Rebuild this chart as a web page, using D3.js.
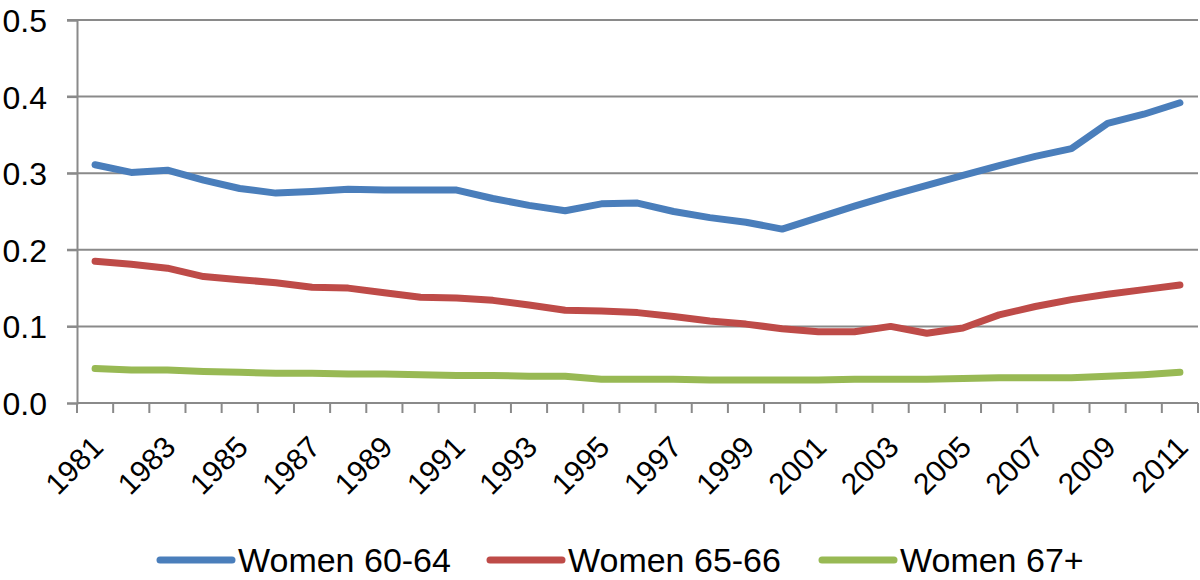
<!DOCTYPE html>
<html>
<head>
<meta charset="utf-8">
<script src="https://cdn.jsdelivr.net/npm/d3@7"></script>
<style>
  body { margin: 0; background: #fff; }
  svg { display: block; font-family: "Liberation Sans", Arial, Helvetica, sans-serif; }
</style>
</head>
<body>
<svg id="chart" width="1200" height="580"></svg>
<script>
const years = [1981, 1982, 1983, 1984, 1985, 1986, 1987, 1988, 1989, 1990,
  1991, 1992, 1993, 1994, 1995, 1996, 1997, 1998, 1999, 2000,
  2001, 2002, 2003, 2004, 2005, 2006, 2007, 2008, 2009, 2010, 2011];

const women6064 = [0.311, 0.301, 0.304, 0.291, 0.280, 0.274, 0.276, 0.279, 0.278, 0.278,
  0.278, 0.267, 0.258, 0.251, 0.260, 0.261, 0.250, 0.242, 0.236, 0.227,
  0.242, 0.257, 0.271, 0.284, 0.297, 0.310, 0.322, 0.332, 0.365, 0.377, 0.392];

const women6566 = [0.185, 0.181, 0.176, 0.165, 0.161, 0.157, 0.151, 0.150, 0.144, 0.138,
  0.137, 0.134, 0.128, 0.121, 0.120, 0.118, 0.113, 0.107, 0.103, 0.097,
  0.093, 0.093, 0.100, 0.091, 0.098, 0.115, 0.126, 0.135, 0.142, 0.148, 0.154];

const women67 = [0.045, 0.043, 0.043, 0.041, 0.040, 0.039, 0.039, 0.038, 0.038, 0.037,
  0.036, 0.036, 0.035, 0.035, 0.031, 0.031, 0.031, 0.030, 0.030, 0.030,
  0.030, 0.031, 0.031, 0.031, 0.032, 0.033, 0.033, 0.033, 0.035, 0.037, 0.040];

const seriesNames = ['Women 60-64', 'Women 65-66', 'Women 67+'];
const seriesValues = [women6064, women6566, women67];
const colors = ['#4a7ebb', '#be4b48', '#98b954'];

const yTicks = [0, 0.1, 0.2, 0.3, 0.4, 0.5];
const labelYears = years.filter((y, i) => i % 2 === 0);

const svg = d3.select('#chart');
const plot = {left: 77, right: 1198, top: 20, bottom: 403};

const x = d3.scaleBand().domain(years).range([plot.left, plot.right]).padding(0);
const y = d3.scaleLinear().domain([0, 0.5]).range([plot.bottom, plot.top]);
const gridColor = '#8a8a8a';

// horizontal gridlines
svg.append('g')
    .selectAll('line')
    .data(yTicks.slice(1))
    .enter()
    .append('line')
    .attr('x1', plot.left - 10)
    .attr('x2', plot.right)
    .attr('y1', (d) => y(d))
    .attr('y2', (d) => y(d))
    .attr('stroke', gridColor)
    .attr('stroke-width', 2);

// y axis
const yAxis = svg.append('g')
    .attr('transform', `translate(${plot.left},0)`)
    .call(d3.axisLeft(y).tickValues(yTicks).tickFormat(d3.format('.1f'))
        .tickSize(10).tickPadding(20));
yAxis.select('.domain').attr('stroke', gridColor).attr('stroke-width', 2);
yAxis.selectAll('.tick line').attr('stroke', gridColor).attr('stroke-width', 2);
yAxis.selectAll('.tick text')
    .attr('font-size', 32)
    .attr('font-family', '"Liberation Sans", Arial, sans-serif')
    .attr('fill', '#000')
    .attr('dy', '0.36em');

// x axis with ticks at category boundaries
const xg = svg.append('g');
xg.append('line')
    .attr('x1', plot.left).attr('x2', plot.right)
    .attr('y1', plot.bottom).attr('y2', plot.bottom)
    .attr('stroke', gridColor).attr('stroke-width', 2);
xg.selectAll('line.tk')
    .data(years.concat(['end']))
    .enter()
    .append('line')
    .attr('class', 'tk')
    .attr('x1', (d) => d === 'end' ? plot.right : x(d))
    .attr('x2', (d) => d === 'end' ? plot.right : x(d))
    .attr('y1', plot.bottom)
    .attr('y2', plot.bottom + 10)
    .attr('stroke', gridColor)
    .attr('stroke-width', 2);
xg.selectAll('text')
    .data(labelYears)
    .enter()
    .append('text')
    .attr('transform', (d) => `translate(${x(d) + x.bandwidth() / 2 + 10},${plot.bottom + 46}) rotate(-45)`)
    .attr('text-anchor', 'end')
    .attr('font-size', 30)
    .attr('fill', '#000')
    .text((d) => d);

// series lines
const line = d3.line()
    .x((d, i) => x(years[i]) + x.bandwidth() / 2)
    .y((d) => y(d));

svg.append('g')
    .selectAll('path')
    .data(seriesValues)
    .enter()
    .append('path')
    .attr('d', line)
    .attr('fill', 'none')
    .attr('stroke', (d, i) => colors[i])
    .attr('stroke-width', 7)
    .attr('stroke-linecap', 'round')
    .attr('stroke-linejoin', 'round');

// legend
const legendX = [160, 490, 822];
const legend = svg.append('g')
    .selectAll('g')
    .data(seriesNames)
    .enter()
    .append('g')
    .attr('transform', (d, i) => `translate(${legendX[i]},560)`);
legend.append('line')
    .attr('x1', 0).attr('x2', 72)
    .attr('stroke', (d, i) => colors[i])
    .attr('stroke-width', 7)
    .attr('stroke-linecap', 'round');
legend.append('text')
    .attr('x', 78)
    .attr('y', 12)
    .attr('font-size', 34)
    .attr('fill', '#000')
    .text((d) => d);
</script>
</body>
</html>
